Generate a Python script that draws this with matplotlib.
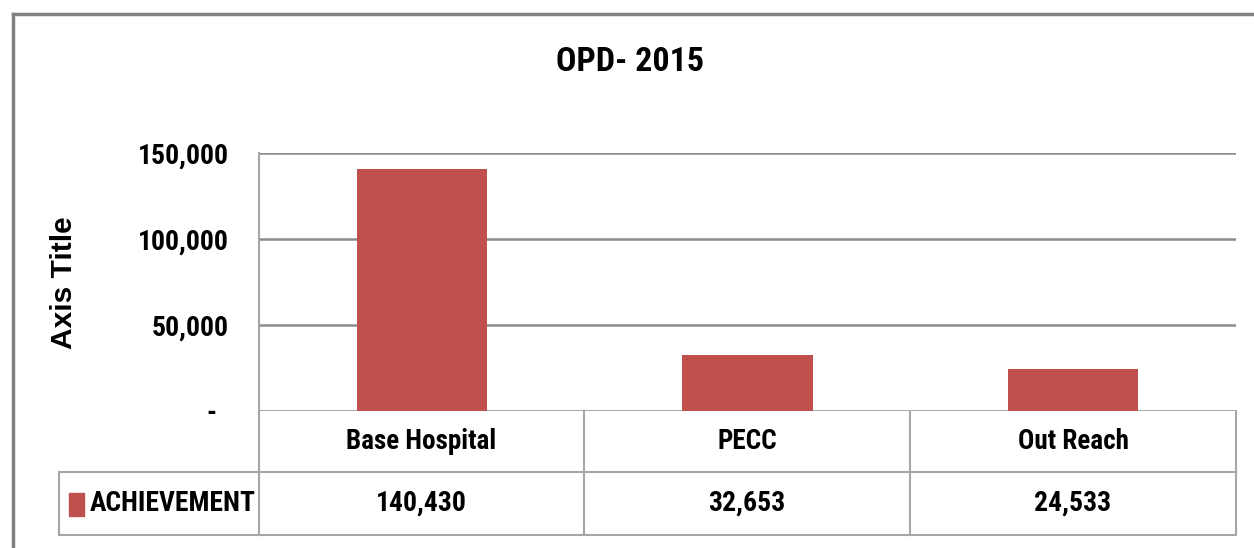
import matplotlib
matplotlib.use("Agg")
import matplotlib.pyplot as plt
from matplotlib import font_manager
from matplotlib.lines import Line2D
from matplotlib.patches import Rectangle
from matplotlib.transforms import ScaledTranslation

# --- данные ---
categories = ["Base Hospital", "PECC", "Out Reach"]
achievement = [140430, 32653, 24533]
series_name = "ACHIEVEMENT"
y_ticks = [0, 50000, 100000, 150000]
y_tick_labels = ["-", "50,000", "100,000", "150,000"]
title = "OPD- 2015"
y_title = "Axis Title"

W, H = 1254, 548
BAR = "#C0504D"
GRID = "#8C8C8C"
TABLE = "#A6A6A6"

# узкий шрифт, если есть (в оригинале Calibri, растянутый по вертикали)
names = {f.name for f in font_manager.fontManager.ttflist}
FONT = "Liberation Sans"
for cand in ["Liberation Sans Narrow", "Roboto Condensed", "Open Sans Condensed"]:
    if cand in names:
        FONT = cand
        break


def fx(x):
    return x / W


def fy(y):
    return 1 - y / H


fig = plt.figure(figsize=(W / 100, H / 100), dpi=100)

# область графика (в пикселях референса): x 259..1236, y 153..411
left, right, top, bottom = 259, 1236, 153, 411
ax = fig.add_axes([fx(left), fy(bottom), (right - left) / W, (bottom - top) / H])
x = list(range(len(categories)))
ax.bar(x, achievement, width=0.4, color=BAR, zorder=3)
ax.set_xlim(-0.5, len(categories) - 0.5)
ax.set_ylim(0, 150000)
ax.set_yticks(y_ticks)
ax.set_yticklabels(y_tick_labels, fontfamily=FONT, fontweight="bold", fontsize=20)
ax.set_xticks([])
ax.tick_params(axis="y", length=0, pad=21.5)
ax.yaxis.grid(True, color=GRID, lw=1.8, zorder=0)
for s in ["top", "right", "bottom"]:
    ax.spines[s].set_visible(False)
ax.spines["left"].set_color(TABLE)
ax.spines["left"].set_linewidth(1.5)
# "-" у нуля сдвинут левее, как в формате Excel
lbl0 = ax.get_yticklabels()[0]
lbl0.set_transform(lbl0.get_transform() + ScaledTranslation(-0.13, 0, fig.dpi_scale_trans))

fig.text(fx(630), fy(62), title, ha="center", va="center",
         fontfamily=FONT, fontweight="bold", fontsize=24.5)
fig.text(fx(64), fy(283), y_title, ha="center", va="center", rotation=90,
         fontfamily="Liberation Sans", fontweight="bold", fontsize=21.5)

# таблица данных
cols = [259, 584, 910, 1236]
r0, r1, r2 = 411, 472, 535
tlines = [
    ([59, 1236], [r1, r1]),
    ([59, 1236], [r2, r2]),
    ([59, 59], [r1, r2]),
    ([259, 259], [r0, r2]),
]
for c in cols[1:]:
    tlines.append(([c, c], [r0, r2]))
for xs, ys in tlines:
    fig.add_artist(Line2D([fx(v) for v in xs], [fy(v) for v in ys],
                          color=TABLE, lw=1.5, transform=fig.transFigure))

for i, (cat, val) in enumerate(zip(categories, achievement)):
    cx = (cols[i] + cols[i + 1]) / 2
    fig.text(fx(cx), fy((r0 + r1) / 2), cat, ha="center", va="center",
             fontfamily=FONT, fontweight="bold", fontsize=19.5)
    fig.text(fx(cx), fy((r1 + r2) / 2), f"{val:,}", ha="center", va="center",
             fontfamily=FONT, fontweight="bold", fontsize=20)

fig.add_artist(Rectangle((fx(69), fy(516)), 15 / W, 23 / H, color=BAR,
                         transform=fig.transFigure))
fig.text(fx(90), fy((r1 + r2) / 2), series_name, ha="left", va="center",
         fontfamily=FONT, fontweight="bold", fontsize=19.8)

# внешняя рамка диаграммы (видны только верх и левый край)
fig.add_artist(Line2D([fx(13), fx(W)], [fy(14), fy(14)], color="#808080", lw=2.5,
                      transform=fig.transFigure))
fig.add_artist(Line2D([fx(13), fx(13)], [fy(14), fy(H)], color="#808080", lw=2.5,
                      transform=fig.transFigure))

fig.savefig("out.png", dpi=100)
